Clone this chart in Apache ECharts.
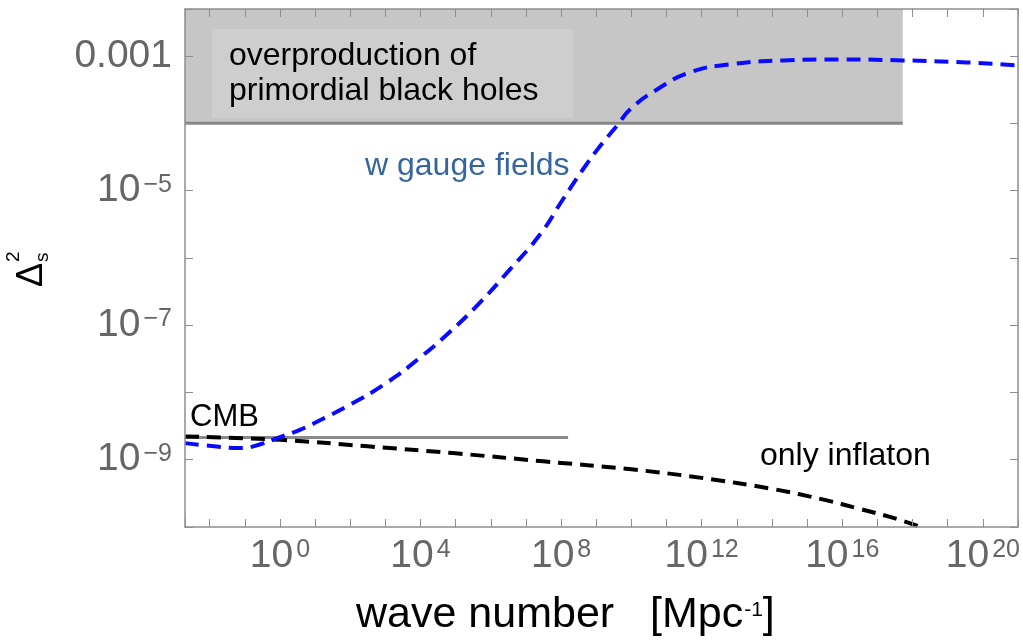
<!DOCTYPE html>
<html>
<head>
<meta charset="utf-8">
<script src="https://cdn.jsdelivr.net/npm/echarts@6/dist/echarts.min.js"></script>
<style>
  html, body { margin: 0; padding: 0; background: #fff; }
  #chart { width: 1023px; height: 640px; }
</style>
</head>
<body>
<div id="chart"></div>
<script>
// Axis ranges, in decades (log10 of wave number and of the power spectrum)
const kRange = [-2.7, 21];
const pRange = [-10, -2.3];

// Spectrum with gauge fields: log10 k [Mpc^-1] and log10 Δ²_s
const gaugeLogK = [-2.70, -1.80, -1.14, -0.51, -0.06, 0.57, 1.28, 1.99, 3.04, 3.98, 4.84, 5.69, 6.54, 7.40, 8.05, 8.62, 9.10, 9.62, 9.96, 10.73, 11.66, 12.80, 14.31, 15.73, 17.72, 19.54, 21.0];
const gaugeLogP = [-8.753, -8.804, -8.827, -8.763, -8.674, -8.555, -8.376, -8.183, -7.856, -7.484, -7.097, -6.665, -6.174, -5.653, -5.132, -4.686, -4.344, -4.016, -3.793, -3.496, -3.243, -3.124, -3.064, -3.049, -3.064, -3.094, -3.138];

// Spectrum from the inflaton alone
const inflatonLogK = [-2.7, 0.0, 2.5, 5.0, 7.5, 10.0, 12.0, 14.0, 15.5, 16.5, 17.5, 18.3];
const inflatonLogP = [-8.655, -8.704, -8.801, -8.905, -9.024, -9.143, -9.270, -9.433, -9.597, -9.731, -9.872, -10.013];

// CMB normalisation and its k reach
const cmbLogP = -8.67;
const cmbLogKMax = 8.2;

// Primordial black hole overproduction bound
const pbhLogP = -4;
const pbhLogKMax = 17.72;

// Tick labels
const xLabelEvery = 4;
const yLabelDecades = [-3, -5, -7, -9];

const FONT = "'Liberation Sans', Arial, sans-serif";
const AXIS_GREY = '#8e8e8e';
const LABEL_GREY = '#666666';

const isInt = v => Math.abs(v - Math.round(v)) < 1e-6;
const supDigits = n => String(n).replace('-', '\u2212');

const pairs = (xs, ys) => xs.map((x, i) => [x, ys[i]]);

function xTickLabel(v) {
  if (!isInt(v)) return '';
  const n = Math.round(v);
  if (n % xLabelEvery !== 0) return '';
  return '10{sup|' + supDigits(n) + '}';
}
function yTickLabel(v) {
  if (!isInt(v)) return '';
  const n = Math.round(v);
  if (yLabelDecades.indexOf(n) < 0) return '';
  if (n === -3) return '0.001';
  return '10{sup|' + supDigits(n) + '}';
}

const tickLabelRich = {
  sup: { fontSize: 25, color: LABEL_GREY, fontFamily: FONT, padding: [0, 0, 12, 3] }
};

function xAxisCfg(position, withLabels) {
  return {
    type: 'value', position: position, min: kRange[0], max: kRange[1],
    splitNumber: 24, minInterval: 1, maxInterval: 1, z: 10,
    axisLine: { show: true, onZero: false, lineStyle: { color: AXIS_GREY, width: 1.5 } },
    axisTick: { show: true, inside: true, length: 8, lineStyle: { color: AXIS_GREY, width: 1 } },
    splitLine: { show: false },
    axisLabel: withLabels ? {
      show: true, margin: 10, fontSize: 39, color: LABEL_GREY, fontFamily: FONT,
      formatter: xTickLabel, rich: tickLabelRich, showMinLabel: true, showMaxLabel: true
    } : { show: false }
  };
}
function yAxisCfg(position, withLabels) {
  return {
    type: 'value', position: position, min: pRange[0], max: pRange[1],
    splitNumber: 8, minInterval: 1, maxInterval: 1, z: 10,
    axisLine: { show: true, onZero: false, lineStyle: { color: AXIS_GREY, width: 1.5 } },
    axisTick: { show: true, inside: true, length: 8, lineStyle: { color: AXIS_GREY, width: 1 } },
    splitLine: { show: false },
    axisLabel: withLabels ? {
      show: true, margin: 13, fontSize: 39, color: LABEL_GREY, fontFamily: FONT,
      formatter: yTickLabel, rich: tickLabelRich, showMinLabel: true, showMaxLabel: true
    } : { show: false }
  };
}

const chart = echarts.init(document.getElementById('chart'), null, { renderer: 'canvas' });

const option = {
  animation: false,
  backgroundColor: '#ffffff',
  grid: { left: 185, right: 5, top: 9, bottom: 113, containLabel: false, outerBoundsMode: 'none' },
  xAxis: [xAxisCfg('bottom', true), xAxisCfg('top', false)],
  yAxis: [yAxisCfg('left', true), yAxisCfg('right', false)],
  series: [
    {
      // excluded region: black hole overproduction
      type: 'line', data: [], silent: true,
      markArea: {
        silent: true,
        itemStyle: { color: '#c6c6c6' },
        data: [[{ coord: [kRange[0], pbhLogP] }, { coord: [pbhLogKMax, pRange[1]] }]]
      }
    },
    {
      type: 'line', name: 'PBH bound', silent: true, showSymbol: false,
      data: [[kRange[0], pbhLogP], [pbhLogKMax, pbhLogP]],
      lineStyle: { color: '#878787', width: 3 }
    },
    {
      type: 'line', name: 'CMB', silent: true, showSymbol: false,
      data: [[kRange[0], cmbLogP], [cmbLogKMax, cmbLogP]],
      lineStyle: { color: '#8a8a8a', width: 3 }
    },
    {
      type: 'line', name: 'only inflaton', silent: true, showSymbol: false,
      smooth: 0.4, clip: true,
      data: pairs(inflatonLogK, inflatonLogP),
      lineStyle: { color: '#000000', width: 4, type: [14, 8], cap: 'butt', join: 'round' }, z: 4
    },
    {
      type: 'line', name: 'w gauge fields', silent: true, showSymbol: false,
      smooth: true, clip: true,
      data: pairs(gaugeLogK, gaugeLogP),
      lineStyle: { color: '#0a0aff', width: 4, type: [14, 8], cap: 'butt', join: 'round' }, z: 5
    }
  ],
  graphic: [
    {
      type: 'rect', z: 20, silent: true,
      shape: { x: 212, y: 29, width: 361, height: 89 },
      style: { fill: '#cecece' }
    },
    {
      type: 'text', z: 21, silent: true, x: 229, y: 56,
      style: { text: 'overproduction of', font: '32px ' + FONT, fill: '#000', verticalAlign: 'middle' }
    },
    {
      type: 'text', z: 21, silent: true, x: 229, y: 91,
      style: { text: 'primordial black holes', font: '32px ' + FONT, fill: '#000', verticalAlign: 'middle' }
    },
    {
      type: 'text', z: 21, silent: true, x: 365, y: 166,
      style: { text: 'w gauge fields', font: '32px ' + FONT, fill: '#35659f', verticalAlign: 'middle' }
    },
    {
      type: 'text', z: 21, silent: true, x: 190, y: 417,
      style: { text: 'CMB', font: '31px ' + FONT, fill: '#000', verticalAlign: 'middle' }
    },
    {
      type: 'text', z: 21, silent: true, x: 760, y: 456,
      style: { text: 'only inflaton', font: '32px ' + FONT, fill: '#000', verticalAlign: 'middle' }
    },
    {
      // x-axis title
      type: 'text', z: 21, silent: true, x: 356, y: 615,
      style: {
        text: 'wave number   [Mpc{s|-1}]', font: '43px ' + FONT, fill: '#000', verticalAlign: 'middle',
        rich: { s: { fontSize: 21, fontFamily: FONT, fill: '#000', padding: [0, 0, 9, 1] } }
      }
    },
    {
      // y-axis title: Δ with superscript 2 and subscript s, rotated
      type: 'group', z: 21, x: 45, y: 287, rotation: Math.PI / 2, silent: true,
      children: [
        { type: 'text', x: 0, y: -12.6, style: { text: 'Δ', font: '36px ' + FONT, fill: '#000', verticalAlign: 'middle' } },
        { type: 'text', x: 25, y: -31, style: { text: '2', font: '19px ' + FONT, fill: '#000', verticalAlign: 'middle' } },
        { type: 'text', x: 25, y: -2, style: { text: 's', font: '19px ' + FONT, fill: '#000', verticalAlign: 'middle' } }
      ]
    }
  ]
};

chart.setOption(option);
</script>
</body>
</html>
